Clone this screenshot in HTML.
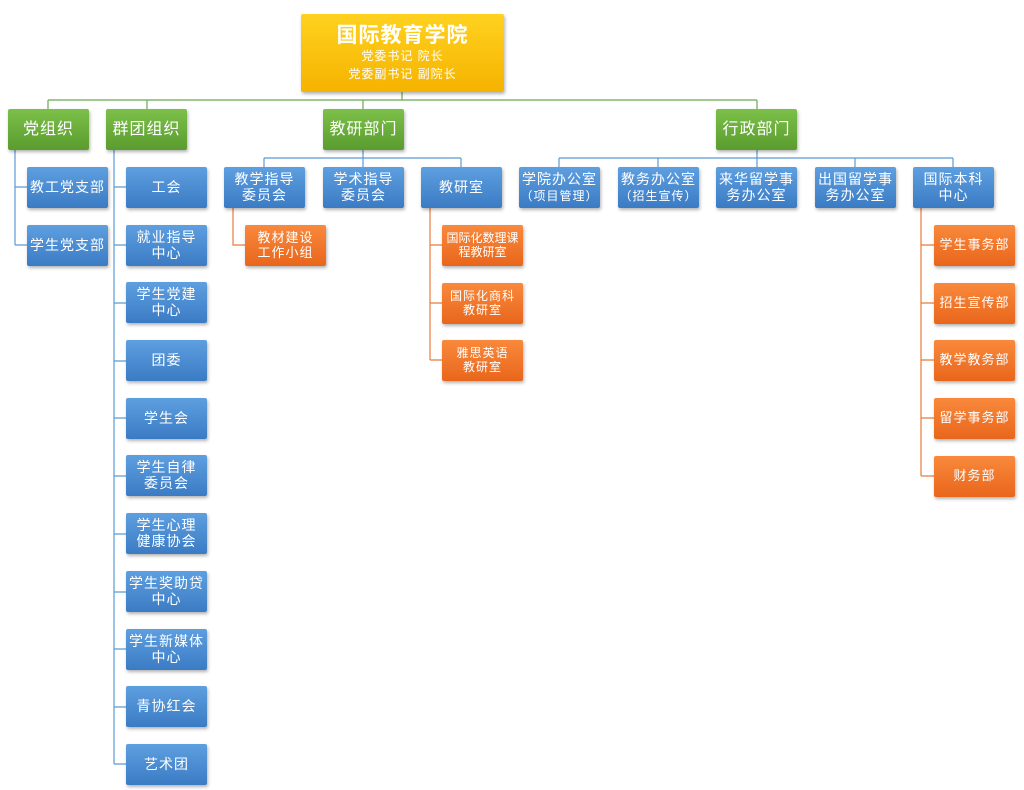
<!DOCTYPE html>
<html><head><meta charset="utf-8"><style>
body{margin:0;width:1024px;height:790px;background:#fff;position:relative;overflow:hidden;font-family:"Liberation Sans","Noto Sans CJK SC",sans-serif}
.b{position:absolute;display:flex;align-items:center;justify-content:center;text-align:center;color:#fff;box-sizing:border-box;border-radius:2px;box-shadow:1px 2px 3px rgba(0,0,0,.3);line-height:1.1;letter-spacing:1px}
.bl{background:linear-gradient(#5e9fe0,#3b7bc4);width:81px;height:41px;font-size:14px}
.gr{background:linear-gradient(#7cc04a,#5a9c2e);width:81px;height:41px;font-size:16px}
.or{background:linear-gradient(#f9893c,#e8661c);width:81px;height:41px;font-size:13px}
.top{background:linear-gradient(#ffd21f,#f5b300);left:301px;top:14px;width:203px;height:78px;flex-direction:column;font-size:12px;line-height:1.45}
svg{position:absolute;left:0;top:0}
</style></head><body>
<svg width="1024" height="790">
<g stroke="#6aa84f" stroke-width="1.2" fill="none">
<path d="M402 92V100M48 100H757M48 100V109M147 100V109M363 100V109M757 100V109"/>
</g>
<g stroke="#5b9bd5" stroke-width="1.2" fill="none">
<path d="M15 150V245M15 187H27M15 245H27"/>
<path d="M114 150V764M114 187H126"/>
<path d="M363 150V158M264 158H461M264 158V167M363 158V167M461 158V167"/>
<path d="M757 150V158M559 158H953M559 158V167M658 158V167M757 158V167M855 158V167M953 158V167"/>
<path d="M114 245H126M114 303H126M114 361H126M114 418H126M114 476H126M114 534H126M114 592H126M114 649H126M114 707H126M114 764H126"/>
</g>
<g stroke="#e87a3a" stroke-width="1.2" fill="none">
<path d="M233 208V245H245"/>
<path d="M430 208V360M430 245H442M430 303H442M430 360H442"/>
<path d="M921 208V476M921 245H934M921 303H934M921 360H934M921 418H934M921 476H934"/>
</g>
</svg>
<div class="b top"><div style="font-size:21px;font-weight:bold;line-height:1.2">国际教育学院</div><div>党委书记 院长</div><div>党委副书记 副院长</div></div>
<div class="b gr" style="left:8px;top:109px">党组织</div>
<div class="b gr" style="left:106px;top:109px">群团组织</div>
<div class="b gr" style="left:323px;top:109px">教研部门</div>
<div class="b gr" style="left:716px;top:109px">行政部门</div>
<div class="b bl" style="left:27px;top:167px">教工党支部</div>
<div class="b bl" style="left:27px;top:225px">学生党支部</div>
<div class="b bl" style="left:126px;top:167px">工会</div>
<div class="b bl" style="left:126px;top:225px">就业指导<br>中心</div>
<div class="b bl" style="left:126px;top:282px">学生党建<br>中心</div>
<div class="b bl" style="left:126px;top:340px">团委</div>
<div class="b bl" style="left:126px;top:398px">学生会</div>
<div class="b bl" style="left:126px;top:455px">学生自律<br>委员会</div>
<div class="b bl" style="left:126px;top:513px">学生心理<br>健康协会</div>
<div class="b bl" style="left:126px;top:571px">学生奖助贷<br>中心</div>
<div class="b bl" style="left:126px;top:629px">学生新媒体<br>中心</div>
<div class="b bl" style="left:126px;top:686px">青协红会</div>
<div class="b bl" style="left:126px;top:744px">艺术团</div>
<div class="b bl" style="left:224px;top:167px">教学指导<br>委员会</div>
<div class="b bl" style="left:323px;top:167px">学术指导<br>委员会</div>
<div class="b bl" style="left:421px;top:167px">教研室</div>
<div class="b bl" style="left:519px;top:167px"><div>学院办公室<br><span style="font-size:12px">（项目管理）</span></div></div>
<div class="b bl" style="left:618px;top:167px"><div>教务办公室<br><span style="font-size:12px">（招生宣传）</span></div></div>
<div class="b bl" style="left:716px;top:167px">来华留学事<br>务办公室</div>
<div class="b bl" style="left:815px;top:167px">出国留学事<br>务办公室</div>
<div class="b bl" style="left:913px;top:167px">国际本科<br>中心</div>
<div class="b or" style="left:245px;top:225px">教材建设<br>工作小组</div>
<div class="b or" style="left:442px;top:225px;font-size:12px;letter-spacing:0">国际化数理课<br>程教研室</div>
<div class="b or" style="left:442px;top:283px;font-size:12px">国际化商科<br>教研室</div>
<div class="b or" style="left:442px;top:340px;font-size:12px">雅思英语<br>教研室</div>
<div class="b or" style="left:934px;top:225px">学生事务部</div>
<div class="b or" style="left:934px;top:283px">招生宣传部</div>
<div class="b or" style="left:934px;top:340px">教学教务部</div>
<div class="b or" style="left:934px;top:398px">留学事务部</div>
<div class="b or" style="left:934px;top:456px">财务部</div>
</body></html>
